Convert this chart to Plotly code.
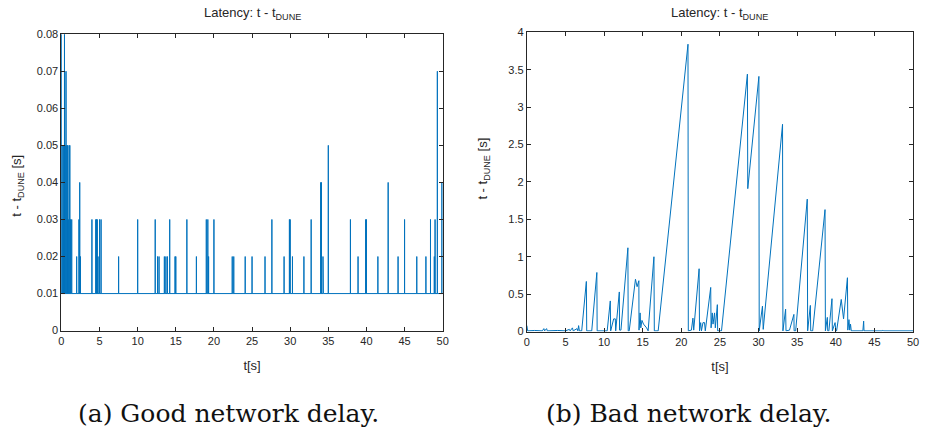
import plotly.graph_objects as go

W, H = 927, 428

# ---- Good network: baseline latency with isolated spikes ----
good_baseline = 0.01
good_spike_t = [0.0, 0.1, 0.2, 0.3, 0.4, 0.5, 0.6, 0.7, 0.8, 0.9, 1.0, 1.1, 1.2, 1.35,
                2.0, 2.3, 2.4, 2.5, 4.0, 4.5, 4.6, 4.7, 4.8, 5.0, 5.2, 7.5, 10.0,
                12.3, 12.6, 12.8, 13.5, 13.7, 13.9, 14.2, 14.9, 15.0, 16.45, 17.7,
                19.0, 19.2, 19.3, 20.0, 22.4, 22.6, 24.1, 25.0, 26.7, 27.6, 29.2,
                29.9, 30.0, 30.3, 31.8, 32.75, 34.0, 34.1, 34.3, 34.35, 35.0, 37.9,
                38.9, 39.9, 40.0, 41.5, 42.85, 44.15, 45.0, 46.6, 47.8, 48.4, 48.9,
                49.0, 49.3, 49.9]
good_spike_v = [0.08, 0.05, 0.03, 0.05, 0.08, 0.05, 0.07, 0.05, 0.05, 0.03, 0.05, 0.05, 0.03, 0.03,
                0.02, 0.03, 0.04, 0.02, 0.03, 0.03, 0.03, 0.03, 0.02, 0.03, 0.03, 0.02, 0.03,
                0.03, 0.02, 0.02, 0.02, 0.02, 0.02, 0.03, 0.02, 0.02, 0.03, 0.02,
                0.03, 0.03, 0.02, 0.03, 0.02, 0.02, 0.02, 0.02, 0.02, 0.03, 0.02,
                0.03, 0.03, 0.02, 0.02, 0.03, 0.04, 0.04, 0.02, 0.02, 0.05, 0.03,
                0.02, 0.03, 0.03, 0.02, 0.04, 0.02, 0.03, 0.02, 0.02, 0.03, 0.02,
                0.03, 0.07, 0.04]

# ---- Bad network: sawtooth latency ----
bad_t = [0.0, 0.1, 1.0, 2.0, 2.2, 2.3, 2.55, 2.65, 4.0, 5.0, 5.5, 5.6, 5.9, 6.0, 6.5, 6.6,
         6.7, 6.8, 7.1, 7.7, 7.75, 8.4, 9.06, 9.1, 10.4, 10.8, 10.85, 11.07, 11.24, 11.45,
         11.5, 11.97, 12.0, 12.18, 13.08, 13.12, 13.25, 14.06, 14.27, 14.5, 14.52, 14.66,
         14.75, 14.9, 15.1, 15.5, 15.7, 16.45, 16.5, 17.0, 20.86, 20.9, 21.3, 21.5, 21.6,
         22.3, 22.35, 22.5, 22.6, 22.8, 23.0, 23.1, 23.8, 23.85, 24.0, 24.1, 24.3, 24.4,
         24.66, 24.7, 25.2, 28.55, 28.6, 30.04, 30.08, 30.5, 30.6, 33.1, 33.15, 33.5,
         33.55, 34.0, 34.57, 34.6, 34.8, 36.3, 36.35, 36.7, 36.75, 37.0, 38.6, 38.65,
         38.9, 38.95, 39.1, 39.5, 39.55, 39.9, 40.0, 40.1, 40.6, 40.7, 41.0, 41.5, 41.55,
         41.7, 41.8, 41.9, 42.0, 43.5, 43.6, 43.65, 46.0, 46.1, 46.2, 50.0]
bad_lat = [0.08, 0.01, 0.015, 0.01, 0.04, 0.01, 0.04, 0.01, 0.015, 0.01, 0.03, 0.01, 0.05, 0.01, 0.04, 0.01,
           0.08, 0.01, 0.01, 0.67, 0.01, 0.01, 0.79, 0.01, 0.01, 0.41, 0.01, 0.10, 0.17, 0.17,
           0.01, 0.53, 0.02, 0.02, 1.12, 0.01, 0.01, 0.70, 0.60, 0.68, 0.02, 0.25,
           0.05, 0.15, 0.10, 0.05, 0.01, 1.00, 0.01, 0.01, 3.84, 0.01, 0.02, 0.18, 0.02,
           0.84, 0.01, 0.12, 0.01, 0.12, 0.12, 0.01, 0.59, 0.05, 0.25, 0.10, 0.25, 0.05,
           0.36, 0.01, 0.01, 3.44, 1.91, 3.41, 0.01, 0.34, 0.03, 2.77, 0.01, 0.30,
           0.01, 0.02, 0.23, 0.01, 0.01, 1.77, 0.01, 0.35, 0.01, 0.01, 1.63, 0.01,
           0.19, 0.01, 0.01, 0.44, 0.01, 0.12, 0.01, 0.01, 0.32, 0.43, 0.17, 0.72, 0.02,
           0.16, 0.02, 0.10, 0.01, 0.01, 0.14, 0.01, 0.01, 0.02, 0.01, 0.01]

x_ticks = [0, 5, 10, 15, 20, 25, 30, 35, 40, 45, 50]
good_y_ticks = [0, 0.01, 0.02, 0.03, 0.04, 0.05, 0.06, 0.07, 0.08]
bad_y_ticks = [0, 0.5, 1, 1.5, 2, 2.5, 3, 3.5, 4]

assert len(good_spike_t) == len(good_spike_v)
assert len(bad_t) == len(bad_lat)

# Build the good-network trace: baseline with vertical spikes
gx, gy = [0.0], [good_baseline]
for t, v in zip(good_spike_t, good_spike_v):
    gx += [t, t, t]
    gy += [good_baseline, v, good_baseline]
gx.append(50.0)
gy.append(good_baseline)

LINE = "#0072BD"
AX = "#262626"
TICKFONT = dict(family="Liberation Sans, Arial, sans-serif", size=11, color=AX)
LABFONT = dict(family="Liberation Sans, Arial, sans-serif", size=13, color=AX)

def px(x):
    return x / W

def py(y):
    return 1 - y / H

fig = go.Figure()
fig.add_trace(go.Scatter(x=gx, y=gy, mode="lines", line=dict(color=LINE, width=1),
                         xaxis="x", yaxis="y", showlegend=False))
fig.add_trace(go.Scatter(x=bad_t, y=bad_lat, mode="lines", line=dict(color=LINE, width=1),
                         xaxis="x2", yaxis="y2", showlegend=False))

axis_common = dict(showline=True, linecolor=AX, linewidth=1, mirror="ticks", ticks="inside",
                   ticklen=4, tickcolor=AX, tickwidth=1, showgrid=False, zeroline=False,
                   tickfont=TICKFONT)

L = dict(x0=59, x1=444, y0=29, y1=334)
R = dict(x0=529, x1=919, y0=27, y1=335)

fig.update_layout(
    width=W, height=H, margin=dict(l=0, r=0, t=0, b=0),
    paper_bgcolor="white", plot_bgcolor="white",
    xaxis=dict(domain=[px(L["x0"]), px(L["x1"])], range=[0, 50], tickvals=x_ticks,
               anchor="y", title=dict(text="t[s]", font=LABFONT, standoff=15), **axis_common),
    yaxis=dict(domain=[py(L["y1"]), py(L["y0"])], range=[0, 0.08], tickvals=good_y_ticks,
               ticktext=[("%g" % v) for v in good_y_ticks], anchor="x", **axis_common),
    xaxis2=dict(domain=[px(R["x0"]), px(R["x1"])], range=[0, 50], tickvals=x_ticks,
                anchor="y2", title=dict(text="t[s]", font=LABFONT, standoff=15), **axis_common),
    yaxis2=dict(domain=[py(R["y1"]), py(R["y0"])], range=[0, 4], tickvals=bad_y_ticks,
                ticktext=[("%g" % v) for v in bad_y_ticks], anchor="x2", **axis_common),
)

ann = []
title_txt = "Latency: t - t<sub>DUNE</sub>"
ylab_txt = "t - t<sub>DUNE</sub> [s]"
for P, ylab_y in ((L, 185), (R, 167)):
    cx = (P["x0"] + P["x1"]) / 2
    ann.append(dict(text=title_txt, x=px(cx), y=py(8), xref="paper", yref="paper",
                    showarrow=False, xanchor="center", yanchor="middle", font=LABFONT))
    ann.append(dict(text=ylab_txt, x=px(P["x0"] - 44), y=py(ylab_y), xref="paper", yref="paper",
                    showarrow=False, xanchor="center", yanchor="middle", textangle=-90,
                    font=LABFONT))

CAPFONT = dict(family="DejaVu Serif, Liberation Serif, serif", size=25, color="#111111")
ann.append(dict(text="(a) Good network delay.", x=px(228), y=py(419), xref="paper", yref="paper",
                showarrow=False, xanchor="center", yanchor="middle", font=CAPFONT))
ann.append(dict(text="(b) Bad network delay.", x=px(693), y=py(419), xref="paper", yref="paper",
                showarrow=False, xanchor="center", yanchor="middle", font=CAPFONT))
fig.update_layout(annotations=ann)

fig.write_html("out.html")
